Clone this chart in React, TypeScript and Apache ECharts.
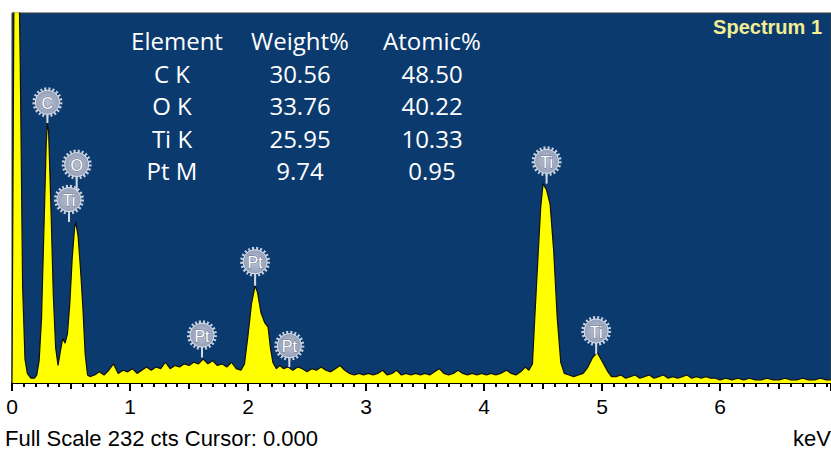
import React, { useEffect, useRef } from "react";
import * as echarts from "echarts";

// ---- Spectrum data ----
const energyKeV = [
  0.0, 0.01, 0.02, 0.05, 0.07, 0.09, 0.11, 0.13, 0.16, 0.19, 0.21,
  0.23, 0.25, 0.27, 0.29, 0.3, 0.31, 0.33, 0.35, 0.37, 0.39, 0.41, 0.43, 0.45, 0.47, 0.49,
  0.51, 0.53, 0.54, 0.56, 0.58, 0.6, 0.62, 0.64,
  0.66, 0.7, 0.74, 0.78, 0.82, 0.86, 0.9, 0.94, 0.98, 1.02, 1.06, 1.1, 1.14, 1.18, 1.22,
  1.26, 1.3, 1.34, 1.38, 1.42, 1.46, 1.5, 1.54, 1.58, 1.62, 1.66, 1.7, 1.74, 1.78, 1.82,
  1.86, 1.9, 1.94,
  1.97, 2.0, 2.03, 2.06, 2.08, 2.11, 2.14, 2.17, 2.19, 2.21, 2.24, 2.27, 2.3, 2.34, 2.38,
  2.42, 2.46, 2.5, 2.54, 2.58, 2.62, 2.66, 2.7, 2.74, 2.78, 2.82, 2.86, 2.9, 2.94, 2.98,
  3.02, 3.06, 3.1, 3.14, 3.18, 3.22, 3.26, 3.3, 3.34, 3.38, 3.42, 3.46, 3.5, 3.54, 3.58,
  3.62, 3.66, 3.7, 3.74, 3.78, 3.82, 3.86, 3.9, 3.94, 3.98, 4.02, 4.06, 4.1, 4.14, 4.19,
  4.23, 4.27, 4.31, 4.35, 4.38, 4.41, 4.43, 4.46, 4.48, 4.5, 4.53, 4.56, 4.59, 4.62, 4.65,
  4.68, 4.72, 4.76, 4.8, 4.84, 4.88, 4.92, 4.96, 4.99, 5.02, 5.05, 5.08, 5.12, 5.16, 5.2,
  5.24, 5.28, 5.32, 5.36, 5.4, 5.44, 5.48, 5.52, 5.56, 5.6, 5.64, 5.68, 5.72, 5.76, 5.8,
  5.84, 5.88, 5.92, 5.96, 6.0, 6.05, 6.1, 6.15, 6.2, 6.25, 6.3, 6.35, 6.4, 6.45, 6.5,
  6.55, 6.6, 6.65, 6.7, 6.75, 6.8, 6.85, 6.9, 6.94,
];
const counts = [
  0, 150, 300, 300, 200, 60, 15, 6, 3, 3, 5,
  14, 40, 95, 150, 163, 158, 110, 55, 22, 11, 20, 28, 25, 31, 50,
  78, 97, 101, 92, 72, 48, 18, 5,
  4, 5, 7, 5, 8, 12, 6, 8, 7, 9, 6, 8, 10, 8, 10,
  9, 13, 9, 11, 10, 12, 11, 13, 12, 15, 12, 14, 11, 12, 10,
  13, 9, 8,
  12, 30, 50, 61, 57, 44, 38, 35, 22, 13, 9, 11, 9, 10, 8,
  10, 9, 7, 9, 8, 10, 8, 7, 9, 11, 8, 6, 5, 6, 5,
  6, 5, 6, 8, 5, 6, 8, 5, 6, 5, 6, 5, 6, 5, 7,
  9, 6, 5, 6, 8, 6, 5, 6, 5, 6, 5, 6, 5, 6, 8,
  6, 5, 7, 10, 8, 12, 41, 83, 110, 125, 121, 112, 83, 41, 13,
  6, 5, 4, 5, 6, 10, 16, 19, 15, 11, 7, 4, 4, 5, 3,
  4, 5, 3, 4, 5, 3, 4, 5, 3, 4, 3, 4, 5, 3, 4,
  3, 4, 3, 3, 2, 3, 2, 3, 2, 3, 2, 2, 3, 2, 2,
  3, 2, 2, 3, 2, 2, 3, 2, 2,
];

// ---- Peak identification labels ----
const peakElements = ["C", "O", "Ti", "Pt", "Pt", "Pt", "Ti", "Ti"];
const peakKeV = [0.3, 0.548, 0.483, 1.61, 2.06, 2.35, 4.53, 4.95];
const peakStemEndCts = [163, 115, 101, 16, 61, 10, 125, 18];
const peakLabelCts = [176, 137, 115, 30, 76, 23.4, 139, 32.6];

// ---- Quantification table ----
const tableHeader = ["Element", "Weight%", "Atomic%"];
const tableElements = ["C K", "O K", "Ti K", "Pt M"];
const tableWeight = ["30.56", "33.76", "25.95", "9.74"];
const tableAtomic = ["48.50", "40.22", "10.33", "0.95"];

// ---- Axis ----
const xTickLabels = ["0", "1", "2", "3", "4", "5", "6"];
const fullScaleCts = 232;
const xMaxKeV = 6.94;

const sans = '"Liberation Sans", Arial, sans-serif';
const tableFont = '"Open Sans", Lato, sans-serif';

export default function App() {
  const ref = useRef<HTMLDivElement>(null);

  useEffect(() => {
    if (!ref.current) return;
    const chart = echarts.init(ref.current, undefined, { renderer: "svg" });

    const spectrum = energyKeV.map((e, i) => [e, counts[i]]);
    const peaks = peakElements.map((el, i) => [
      peakKeV[i],
      peakStemEndCts[i],
      peakLabelCts[i],
      el,
    ]);

    const colX = [174, 300, 432];
    const rowY = [40, 73, 105, 138, 170];
    const textStyle = (t: string) => ({
      text: t,
      fill: "#ffffff",
      font: `24px ${tableFont}`,
      lineHeight: 24,
      textAlign: "center",
      textVerticalAlign: "middle",
      shadowColor: "rgba(0,0,0,0.7)",
      shadowBlur: 2,
      shadowOffsetX: 1,
      shadowOffsetY: 1,
    });
    const tableTexts: any[] = [];
    tableHeader.forEach((h, c) =>
      tableTexts.push({
        type: "text",
        x: colX[c] + (c === 0 ? 3 : 0),
        y: rowY[0],
        style: textStyle(h),
      })
    );
    tableElements.forEach((el, r) => {
      [el, tableWeight[r], tableAtomic[r]].forEach((t, c) =>
        tableTexts.push({
          type: "text",
          x: colX[c] - (c === 0 ? 2 : 0),
          y: rowY[r + 1],
          style: textStyle(t),
        })
      );
    });

    const xLabelSet = new Set(xTickLabels);

    chart.setOption({
      animation: false,
      grid: {
        left: 12,
        right: 0,
        top: 13,
        bottom: 67,
        show: true,
        backgroundColor: "#0b3a6e",
        borderColor: "#3a3a3a",
        borderWidth: 1,
      },
      xAxis: [
        {
          type: "value",
          min: 0,
          max: xMaxKeV,
          interval: 1,
          position: "bottom",
          axisLine: { show: true, lineStyle: { color: "#000", width: 2 } },
          axisTick: { show: true, length: 8, lineStyle: { color: "#000", width: 2 } },
          minorTick: { show: true, splitNumber: 10, length: 4, lineStyle: { color: "#000", width: 2 } },
          splitLine: { show: false },
          axisLabel: {
            show: true,
            margin: 13,
            color: "#000",
            fontFamily: sans,
            fontSize: 21,
            showMaxLabel: false,
            formatter: (v: number) => {
              const s = String(Math.round(v));
              return xLabelSet.has(s) ? s : "";
            },
          },
        },
        {
          type: "value",
          min: 0,
          max: xMaxKeV,
          interval: 0.5,
          position: "bottom",
          axisLine: { show: false },
          axisTick: { show: true, length: 6, lineStyle: { color: "#000", width: 2 } },
          axisLabel: { show: false },
          splitLine: { show: false },
        },
      ],
      yAxis: {
        type: "value",
        min: 0,
        max: fullScaleCts,
        show: false,
        splitLine: { show: false },
      },
      series: [
        {
          type: "line",
          data: spectrum,
          xAxisIndex: 0,
          symbol: "none",
          smooth: false,
          clip: true,
          lineStyle: { color: "#101010", width: 1.2 },
          areaStyle: { color: "#ffff00", opacity: 1 },
          z: 2,
        },
        {
          type: "custom",
          xAxisIndex: 0,
          data: peaks,
          clip: false,
          z: 5,
          renderItem: (params: any, api: any) => {
            const c = api.coord([api.value(0), api.value(2)]);
            const p = api.coord([api.value(0), api.value(1)]);
            const r = 12;
            const name = peakElements[params.dataIndex];
            return {
              type: "group",
              children: [
                {
                  type: "line",
                  shape: { x1: c[0], y1: c[1] + r, x2: p[0], y2: p[1] },
                  style: { stroke: "#d7dde8", lineWidth: 2 },
                },
                {
                  type: "circle",
                  shape: { cx: c[0], cy: c[1], r: r + 1.5 },
                  style: { fill: "none", stroke: "#c9d0de", lineWidth: 3, lineDash: [2, 2] },
                },
                {
                  type: "circle",
                  shape: { cx: c[0], cy: c[1], r: r },
                  style: {
                    fill: new echarts.graphic.RadialGradient(0.5, 0.5, 0.6, [
                      { offset: 0, color: "#b7c0d2" },
                      { offset: 1, color: "#8f9bb4" },
                    ]),
                    stroke: "#e4e8f0",
                    lineWidth: 1,
                  },
                },
                {
                  type: "text",
                  x: c[0],
                  y: c[1] + 1,
                  style: {
                    text: name,
                    fill: "#ffffff",
                    stroke: "#6c7890",
                    lineWidth: 1,
                    font: `16px ${sans}`,
                    textAlign: "center",
                    textVerticalAlign: "middle",
                  },
                },
              ],
            };
          },
        },
      ],
      graphic: [
        ...tableTexts,
        {
          type: "text",
          right: 9,
          top: 17,
          style: {
            text: "Spectrum 1",
            fill: "#f3ee94",
            font: `bold 20px ${sans}`,
            shadowColor: "rgba(0,0,0,0.7)",
            shadowBlur: 2,
            shadowOffsetX: 1,
            shadowOffsetY: 1,
          },
        },
        {
          type: "text",
          left: 5,
          top: 427,
          style: {
            text: `Full Scale ${fullScaleCts} cts Cursor: 0.000`,
            fill: "#000",
            font: `22px ${sans}`,
          },
        },
        {
          type: "text",
          right: 0,
          top: 427,
          style: {
            text: "keV",
            fill: "#000",
            font: `22px ${sans}`,
          },
        },
      ],
    });

    return () => chart.dispose();
  }, []);

  return (
    <div
      ref={ref}
      style={{ position: "absolute", left: 0, top: 0, width: 831, height: 450, background: "#fff" }}
    />
  );
}
